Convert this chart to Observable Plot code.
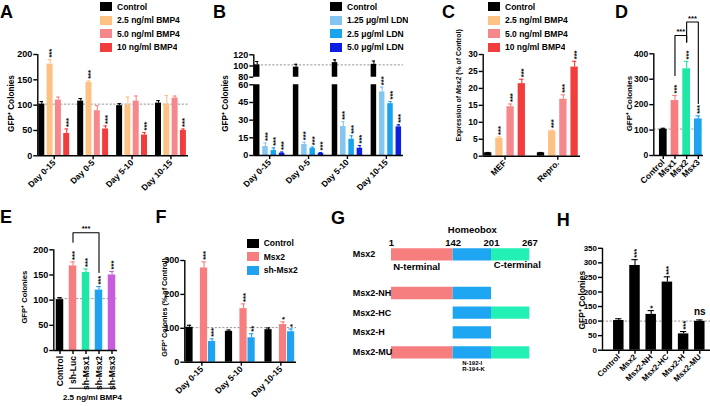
<!DOCTYPE html>
<html><head><meta charset="utf-8">
<script src="https://cdn.jsdelivr.net/npm/d3@7"></script>
<script src="https://cdn.jsdelivr.net/npm/@observablehq/plot@0.6"></script>
<style>
html,body{margin:0;padding:0;background:#fff;}
#fig{position:relative;width:710px;height:406px;overflow:hidden;background:#fff;}
#fig > svg{position:absolute;left:0;top:0;background:transparent !important;overflow:visible;}
.letter{position:absolute;font:bold 18px 'Liberation Sans',Arial,sans-serif;line-height:1;color:#000;}
.lgwrap{position:absolute;}
.lg-swatches{font:bold 8.5px 'Liberation Sans',Arial,sans-serif !important;margin:0 !important;color:#000;}
.lg-swatch{height:13.5px !important;padding:0 !important;display:flex !important;align-items:center !important;}
.lg-swatch > svg{margin-right:5px !important;}
</style>
</head><body><div id="fig"></div>
<script>
const FONT = "'Liberation Sans', Arial, Helvetica, sans-serif";
const W = 710, H = 406;
const fig = document.getElementById("fig");

// ---------------- DATA ----------------
// A
const aGroups = ["Day 0-15", "Day 0-5", "Day 5-10", "Day 10-15"];
const bmpSeries = ["Control", "2.5 ng/ml BMP4", "5.0 ng/ml BMP4", "10 ng/ml BMP4"];
const bmpColors = ["#000000", "#fdc283", "#f6878a", "#f23d3d"];
const aValues = [[102, 108, 99, 104], [181, 145, 100, 102], [110, 89, 108, 114], [44, 53, 41, 50]];
const aErrors = [[5, 5, 4, 5], [9, 3, 16, 17], [6, 10, 10, 4], [9, 6, 5, 3]];
const aStars = [["", "", "", ""], ["***", "***", "", ""], ["", "", "", ""], ["***", "***", "***", "***"]];
// B
const bGroups = ["Day 0-15", "Day 0-5", "Day 5-10", "Day 10-15"];
const ldnSeries = ["Control", "1.25 μg/ml LDN", "2.5 μg/ml LDN", "5.0 μg/ml LDN"];
const ldnColors = ["#000000", "#84c5f2", "#18a3ec", "#0c1ee0"];
const bValues = [[102, 98, 106, 103], [7.6, 9.3, 24.6, 54], [4.2, 5.9, 13.8, 44], [2.0, 1.8, 6.2, 24.3]];
const bErrors = [[6, 5, 5, 6], [3, 2, 4, 4], [2.3, 1.2, 2.9, 1.8], [1, 0.8, 2.3, 1.7]];
const bStars = [["", "", "", ""], ["***", "***", "***", "***"], ["***", "***", "***", "***"], ["***", "***", "***", "***"]];
// C
const cGroups = ["MEF", "Repro."];
const cValues = [[1, 1], [5.3, 7.4], [14.6, 16.8], [21.4, 26.3]];
const cErrors = [[0.1, 0.1], [0.4, 0.3], [0.8, 1.3], [1.3, 1.7]];
const cStars = [["", ""], ["***", "***"], ["***", "***"], ["***", "***"]];
// D
const dLabels = ["Control", "Msx1", "Msx2", "Msx3"];
const dColors = ["#000000", "#f67e7e", "#1fe8a6", "#1fa3f0"];
const dValues = [103, 216, 341, 144];
const dErrors = [4, 20, 29, 12];
const dStars = ["", "***", "***", "***"];
const dComparisons = [["Msx1", "Msx2", "***"], ["Msx2", "Msx3", "***"]];
// E
const eLabels = ["Control", "sh-Luc", "sh-Msx1", "sh-Msx2", "sh-Msx3"];
const eColors = ["#000000", "#f67e7e", "#1fe8a6", "#1fa3f0", "#c75cdc"];
const eValues = [101, 168, 155, 120, 150];
const eErrors = [4, 8, 7, 7, 7];
const eStars = ["", "***", "***", "***", "***"];
const eComparison = ["sh-Luc", "sh-Msx2", "***"];
const eTreatment = "2.5 ng/ml BMP4";
// F
const fGroups = ["Day 0-15", "Day 5-10", "Day 10-15"];
const fSeries = ["Control", "Msx2", "sh-Msx2"];
const fColors = ["#000000", "#f67e7e", "#1fa3f0"];
const fValues = [[103, 91, 96], [278, 158, 111], [61, 72, 90]];
const fErrors = [[6, 4, 5], [18, 14, 8], [8, 12, 8]];
const fStars = [["", "", ""], ["***", "***", "*"], ["***", "**", "*"]];
// G
const gConstructs = ["Msx2", "Msx2-NH", "Msx2-HC", "Msx2-H", "Msx2-MU"];
const gDomains = [{key: "N", name: "N-terminal", start: 1, end: 142, color: "#f67e7e"},
                  {key: "H", name: "Homeobox", start: 142, end: 201, color: "#1ea6f3"},
                  {key: "C", name: "C-terminal", start: 201, end: 267, color: "#22f0b4"}];
const gParts = [["N", "H", "C"], ["N", "H"], ["H", "C"], ["H"], ["N", "H", "C"]];
const gBoundaries = [1, 142, 201, 267];
const gMutations = ["N-192-I", "R-194-K"];
// H
const hLabels = ["Control", "Msx2", "Msx2-NH", "Msx2-HC", "Msx2-H", "Msx2-MU"];
const hValues = [102, 291, 123, 234, 56, 99];
const hErrors = [6, 20, 13, 18, 8, 5];
const hStars = ["", "***", "*", "***", "***", "ns"];

// ---------------- HELPERS ----------------
function buildRows(groups, series, colors, values, errors, stars, L) {
  const offs = L.offsets || series.map((_, i) => i);
  const gu = (L.gstep || 0) / L.step;
  const rows = [];
  groups.forEach((g, gi) => series.forEach((s, si) => {
    const v = values[si][gi], e = errors[si][gi];
    rows.push({group: g, series: s, color: colors[si], value: v, err: e, top: v + e,
               star: stars[si][gi], pos: gi * gu + offs[si]});
  }));
  return rows;
}
function single(arr) { return arr.map(v => [v]); }

function barPlot(o) {
  const L = o.L, rows = o.rows;
  const hw = L.bw / 2 / L.step;
  const xdom = [(L.left - L.c0) / L.step, (L.right - L.c0) / L.step];
  const y0 = o.yDomain[0];
  const clip = !!o.clip;
  const marks = [];
  if (o.dash != null) marks.push(Plot.ruleY([o.dash], {stroke: "#8a8a8a", strokeWidth: 0.9, strokeDasharray: "2.2,1.6"}));
  marks.push(Plot.rect(rows, {x1: d => d.pos - hw, x2: d => d.pos + hw, y1: 0, y2: "value", fill: "color", clip}));
  marks.push(Plot.ruleX(rows, {x: "pos", y1: "value", y2: "top", stroke: "color", strokeWidth: 1.1, clip}));
  marks.push(Plot.ruleY(rows, {y: "top", x1: d => d.pos - hw * 0.6, x2: d => d.pos + hw * 0.6, stroke: "color", strokeWidth: 1.1, clip}));
  if (o.showStars !== false) {
    marks.push(Plot.text(rows.filter(d => d.star && d.star.includes("*")),
      {x: "pos", y: "top", text: "star", rotate: -90, textAnchor: "start", dy: -2, dx: 1.6, fontSize: o.starSize || 7.5}));
    marks.push(Plot.text(rows.filter(d => d.star && !d.star.includes("*")),
      {x: "pos", y: "top", text: "star", dy: -8.5, fontSize: 10}));
  }
  marks.push(Plot.ruleX([xdom[0]], {strokeWidth: 1.4}));
  if (o.xAxis !== false) marks.push(Plot.ruleY([y0], {strokeWidth: 1.4}));
  marks.push(Plot.axisY({ticks: o.yTicks, tickSize: 4, tickPadding: 1.5, strokeWidth: 1.4, fontSize: o.yFont || 9, label: null}));
  if (o.xAxis !== false) {
    let ticks, labels;
    if (o.barTicks) { ticks = rows.map(d => d.pos); labels = rows.map(d => d.series); }
    else {
      const gs = Array.from(new Set(rows.map(d => d.group)));
      ticks = gs.map(g => d3.mean(rows.filter(d => d.group === g), d => d.pos));
      labels = gs;
    }
    const lab = new Map(ticks.map((t, i) => [t, labels[i]]));
    marks.push(Plot.axisX({ticks, tickFormat: t => lab.get(t), tickRotate: o.xRotate ?? -45, tickSize: 4,
      tickPadding: 1.5, strokeWidth: 1.4, fontSize: o.xFont || 8.5, label: null}));
  }
  if (o.ylabel) marks.push(Plot.text([o.ylabel], {frameAnchor: "left", textAnchor: "middle", rotate: -90,
      dx: o.ylabelX - L.left, dy: o.ylabelDy || 0, fontSize: o.ylabelSize || 8.2}));
  if (o.extra) marks.push(...o.extra(rows));
  const svg = Plot.plot({
    width: W, height: H,
    marginLeft: L.left, marginRight: W - L.right, marginTop: L.top, marginBottom: H - L.bottom,
    x: o.xAxis === false ? {domain: xdom, axis: null} : {domain: xdom},
    y: {domain: o.yDomain},
    style: {background: "transparent", fontFamily: FONT, fontWeight: "bold", overflow: "visible", color: "#000"},
    marks
  });
  fig.appendChild(svg);
  return svg;
}

function addLegend(series, colors, left, top) {
  const lg = Plot.legend({color: {type: "ordinal", domain: series, range: colors}, columns: 1,
    swatchWidth: 12, swatchHeight: 9, className: "lg"});
  const wrap = document.createElement("div");
  wrap.className = "lgwrap"; wrap.style.left = left + "px"; wrap.style.top = top + "px";
  wrap.appendChild(lg); fig.appendChild(wrap);
}
function addLetter(t, left, top) {
  const d = document.createElement("div");
  d.className = "letter"; d.textContent = t; d.style.left = left + "px"; d.style.top = top + "px";
  fig.appendChild(d);
}

// ---------------- PANEL A ----------------
const LA = {left: 37.3, right: 188, top: 54, bottom: 155.3, c0: 41.3, step: 8.3, gstep: 38.9, bw: 6};
barPlot({L: LA, rows: buildRows(aGroups, bmpSeries, bmpColors, aValues, aErrors, aStars, LA),
  yDomain: [0, 200], yTicks: [0, 50, 100, 150, 200], dash: 102,
  ylabel: "GFP⁺ Colonies", ylabelX: 10.7, ylabelDy: -1.6});
addLegend(bmpSeries, bmpColors, 100, 0);

// ---------------- PANEL B (broken axis) ----------------
const LBlow = {left: 253.3, right: 403, top: 84.3, bottom: 155, c0: 256.7, step: 8.3, gstep: 38.9, bw: 5.5};
const LBup = {...LBlow, top: 54.3, bottom: 76.7};
const bRows = buildRows(bGroups, ldnSeries, ldnColors, bValues, bErrors, bStars, LBlow);
barPlot({L: LBup, rows: bRows, yDomain: [80, 120], yTicks: [80, 100, 120], dash: 102, clip: true,
  xAxis: false, showStars: false});
barPlot({L: LBlow, rows: bRows, yDomain: [0, 60], yTicks: [0, 15, 30, 45, 60], clip: true,
  ylabel: "GFP⁺ Colonies", ylabelX: 225, ylabelDy: -16.7});
addLegend(ldnSeries, ldnColors, 330, 0);

// ---------------- PANEL C ----------------
const LC = {left: 482.7, right: 580, top: 54, bottom: 155.7, c0: 487.7, step: 11.2, gstep: 52.8, bw: 7.3};
const cSvg = barPlot({L: LC, rows: buildRows(cGroups, bmpSeries, bmpColors, cValues, cErrors, cStars, LC),
  yDomain: [0, 30], yTicks: [0, 5, 10, 15, 20, 25, 30], yFont: 8.5,
  ylabel: "Expression of Msx2 (% of Control)", ylabelX: 458.3, ylabelDy: -20, ylabelSize: 6.9});
d3.select(cSvg).selectAll("text").filter(function() { return this.textContent === "Expression of Msx2 (% of Control)"; })
  .each(function() {
    const t = d3.select(this); t.text(null);
    t.append("tspan").text("Expression of ");
    t.append("tspan").attr("font-style", "italic").text("Msx2");
    t.append("tspan").text(" (% of Control)");
  });
addLegend(bmpSeries, bmpColors, 488, 0);

// ---------------- PANEL D ----------------
const LD = {left: 653.3, right: 703, top: 53.3, bottom: 155, c0: 662.8, step: 11.67, bw: 7.7};
const dBracketGeom = [{y: 472, left: 315, right: 446}, {y: 525, left: 446, right: 205}];
barPlot({L: LD, rows: buildRows([""], dLabels, dColors, single(dValues), single(dErrors), single(dStars), LD),
  yDomain: [0, 400], yTicks: [0, 100, 200, 300, 400], dash: 104, barTicks: true, yFont: 8.5,
  ylabel: "GFP⁺ Colonies", ylabelX: 629.3, ylabelDy: -1, ylabelSize: 8,
  extra: rows => {
    const posOf = new Map(rows.map(d => [d.series, d.pos]));
    const pts = [], labs = [];
    dComparisons.forEach(([a, b, s], i) => {
      const g = dBracketGeom[i], x1 = posOf.get(a), x2 = posOf.get(b);
      pts.push({id: i, x: x1, y: g.left}, {id: i, x: x1, y: g.y}, {id: i, x: x2, y: g.y}, {id: i, x: x2, y: g.right});
      labs.push({x: (x1 + x2) / 2, y: g.y, s});
    });
    return [Plot.line(pts, {x: "x", y: "y", z: "id", strokeWidth: 1.1}),
            Plot.text(labs, {x: "x", y: "y", text: "s", dy: -3.5, fontSize: 7.5})];
  }});

// ---------------- PANEL E ----------------
const LE = {left: 53.3, right: 117, top: 249.3, bottom: 350, c0: 59.5, step: 13, bw: 7.5};
// annotation layout in value units: bracket top / legs, treatment line and its caption
const eBracketGeom = {y: 234, left: 215, right: 155, underline: -75, caption: -93};
barPlot({L: LE, rows: buildRows([""], eLabels, eColors, single(eValues), single(eErrors), single(eStars), LE),
  yDomain: [0, 200], yTicks: [0, 50, 100, 150, 200], dash: 103, barTicks: true, xRotate: -90,
  ylabel: "GFP⁺ Colonies", ylabelX: 24, ylabelDy: -3, ylabelSize: 7.6,
  extra: rows => {
    const posOf = new Map(rows.map(d => [d.series, d.pos]));
    const x1 = posOf.get(eComparison[0]), x2 = posOf.get(eComparison[1]);
    const g = eBracketGeom;
    const pts = [{x: x1, y: g.left}, {x: x1, y: g.y}, {x: x2, y: g.y}, {x: x2, y: g.right}];
    const treated = rows.filter(d => d.series !== "Control");
    const hw = LE.bw / 2 / LE.step;
    const tx1 = d3.min(treated, d => d.pos) - hw, tx2 = d3.max(treated, d => d.pos) + hw;
    return [Plot.line(pts, {x: "x", y: "y", strokeWidth: 1.1}),
            Plot.text([eComparison[2]], {x: () => (x1 + x2) / 2, y: () => g.y, dy: -4, fontSize: 7.5}),
            Plot.line([{x: tx1, y: g.underline}, {x: tx2, y: g.underline}], {x: "x", y: "y", strokeWidth: 1.1}),
            Plot.text([eTreatment], {x: () => (tx1 + tx2) / 2, y: () => g.caption, fontSize: 8})];
  }});

// ---------------- PANEL F ----------------
const LF = {left: 184.3, right: 296, top: 260, bottom: 361.7, c0: 189, step: 8.3, gstep: 39.5, bw: 7.2, offsets: [0, 1.75, 2.72]};
barPlot({L: LF, rows: buildRows(fGroups, fSeries, fColors, fValues, fErrors, fStars, LF),
  yDomain: [0, 300], yTicks: [0, 100, 200, 300], dash: 102,
  ylabel: "GFP⁺ Colonies (% of Control)", ylabelX: 164, ylabelDy: -4, ylabelSize: 7.2});
addLegend(fSeries, fColors, 246.7, 236.5);

// ---------------- PANEL G ----------------
{
  // drawing layout: horizontal offsets of the residue boundaries, vertical offsets of rows
  const gBreakOffsets = [0, 61.7, 100, 138.3];
  const gRowOffsets = [0, 38.7, 58.4, 78, 98];
  const aaToDraw = d3.scaleLinear().domain(gBoundaries).range(gBreakOffsets);
  const byKey = new Map(gDomains.map(d => [d.key, d]));
  const segs = [];
  gConstructs.forEach((c, i) => gParts[i].forEach(k => { const d = byKey.get(k); segs.push({row: i, start: d.start, end: d.end, color: d.color}); }));
  const svg = Plot.plot({
    width: W, height: H,
    marginLeft: 391, marginRight: W - 529.3, marginTop: 253.8, marginBottom: H - 351.8,
    x: {transform: v => aaToDraw(v), domain: [0, 138.3], axis: null},
    y: {transform: i => gRowOffsets[i], domain: [0, 98], reverse: true, axis: null},
    style: {background: "transparent", fontFamily: FONT, fontWeight: "bold", overflow: "visible", color: "#000"},
    marks: [
      Plot.ruleY(segs, {y: "row", x1: "start", x2: "end", stroke: "color", strokeWidth: 12.3}),
      Plot.text(gConstructs, {x: () => 1, y: (d, i) => i, text: d => d, textAnchor: "start", dx: -38.7, fontSize: 9}),
      Plot.text(gBoundaries, {x: d => d, y: () => 0, text: d => String(d), dy: -11, fontSize: 9.5}),
      Plot.text([gDomains[1]], {x: d => (d.start + d.end) / 2, y: () => 0, text: "name", dy: -24, fontSize: 9.5}),
      Plot.text([gDomains[0]], {x: "start", y: () => 0, text: "name", textAnchor: "start", dx: 1.7, dy: 12.9, fontSize: 9.5}),
      Plot.text([gDomains[2]], {x: "start", y: () => 0, text: "name", textAnchor: "start", dx: 2.3, dy: 10.5, fontSize: 9.5}),
      Plot.text([gMutations.join("\n")], {x: () => 142, y: () => 4, textAnchor: "start", lineAnchor: "top", lineHeight: 1, dx: 9, dy: 8.5, fontSize: 6})
    ]
  });
  fig.appendChild(svg);
}

// ---------------- PANEL H ----------------
const LH = {left: 602, right: 710, top: 247.8, bottom: 349.7, c0: 618.3, step: 16.2, bw: 10.5};
barPlot({L: LH, rows: buildRows([""], hLabels, hLabels.map(() => "#000000"), single(hValues), single(hErrors), single(hStars), LH),
  yDomain: [0, 350], yTicks: [0, 50, 100, 150, 200, 250, 300, 350], dash: 100, barTicks: true, yFont: 8, xFont: 8,
  ylabel: "GFP⁺ Colonies", ylabelX: 582, ylabelDy: 1, ylabelSize: 8.5});

// ---------------- LETTERS ----------------
addLetter("A", 0, 2.7); addLetter("B", 213, 2.7); addLetter("C", 442, 2.7); addLetter("D", 615, 2.7);
addLetter("E", 0, 207.7); addLetter("F", 155.4, 207.7); addLetter("G", 331, 209.4); addLetter("H", 556.7, 210.7);
</script></body></html>
